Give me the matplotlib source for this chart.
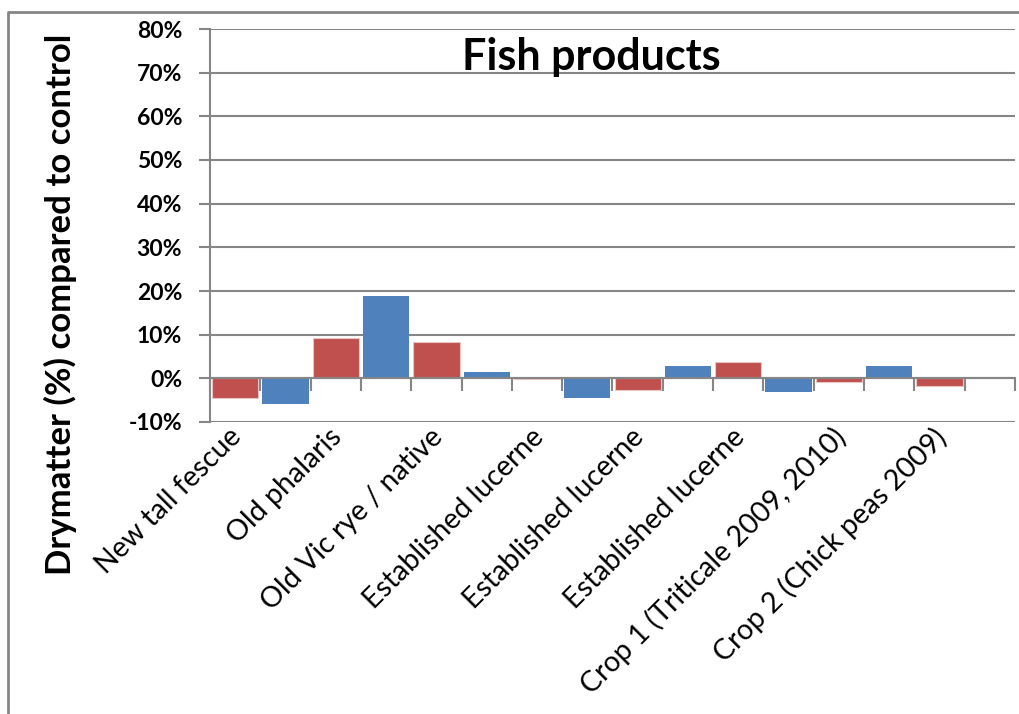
import numpy as np
import matplotlib
matplotlib.use("Agg")
from matplotlib import pyplot as plt
from matplotlib.lines import Line2D
from matplotlib.ticker import FixedLocator, FuncFormatter

plt.rcParams['font.family'] = ['Lato', 'DejaVu Sans']

labels = ["New tall fescue", "Old phalaris", "Old Vic rye / native",
          "Established lucerne", "Established lucerne", "Established lucerne",
          "Crop 1 (Triticale 2009, 2010)", "Crop 2 (Chick peas 2009)"]
red_vals = [-4.4, 9.2, 8.3, -0.2, -2.7, 3.7, -0.8, -1.8]
blue_vals = [-5.8, 18.9, 1.45, -4.4, 2.8, -3.1, 2.8, np.nan]
yticks = list(range(-10, 90, 10))

red = '#C0504D'
blue = '#4F81BD'
grey = '#868686'

fig = plt.figure(figsize=(10.2, 7.14), dpi=100)
ax = fig.add_axes([210 / 1020, 1 - 422 / 714, 805 / 1020, 393 / 714])

n = len(labels)
xr = np.arange(n) * 2
xb = xr + 1
ax.bar(xr, red_vals, 0.92, color=red, edgecolor='#E8C4C3', linewidth=0.8, zorder=3)
ax.bar(xb, blue_vals, 0.92, color=blue, linewidth=0, zorder=3)

ax.set_xlim(-0.5, 2 * n - 0.5)
ax.set_ylim(-10, 80)
ax.set_yticks(yticks)
ax.yaxis.set_major_formatter(FuncFormatter(lambda v, p: f"{v:.0f}%"))
ax.yaxis.grid(True, color=grey, linewidth=1.5, zorder=0)
ax.tick_params(axis='y', length=8, width=1.5, color=grey, pad=12,
               labelsize=16.5)
for t in ax.get_yticklabels():
    t.set_fontweight('bold')

# category axis sits on the zero line, ticks between slots
ax.spines['bottom'].set_position(('data', 0))
ax.spines['bottom'].set_color(grey)
ax.spines['bottom'].set_linewidth(1.5)
ax.spines['bottom'].set_zorder(4)
ax.xaxis.set_major_locator(FixedLocator(np.arange(-0.5, 2 * n, 1)))
ax.set_xticklabels([])
ax.tick_params(axis='x', length=9, width=1.5, color=grey, direction='out')
ax.spines['left'].set_color(grey)
ax.spines['left'].set_linewidth(1.5)
for s in ['top', 'right']:
    ax.spines[s].set_visible(False)

for x, lab in zip(xr, labels):
    ax.annotate(lab, xy=(x, -10), xytext=(-5, -1), textcoords='offset points',
                ha='right', va='top', rotation=45, rotation_mode='anchor',
                fontsize=20.5, annotation_clip=False)

fig.text(591 / 1020, 1 - 70 / 714, "Fish products", ha='center',
         va='baseline', fontsize=31, fontweight='bold')
fig.text(60 / 1020, 1 - 304 / 714, "Drymatter (%) compared to control",
         ha='center', va='center', rotation=90, fontsize=25, fontweight='bold')

# outer chart frame (only top and left visible)
fig.add_artist(Line2D([8 / 1020, 8 / 1020, 1], [0, 1 - 12 / 714, 1 - 12 / 714],
                      color=grey, linewidth=2))

fig.savefig('out.png', dpi=100)
